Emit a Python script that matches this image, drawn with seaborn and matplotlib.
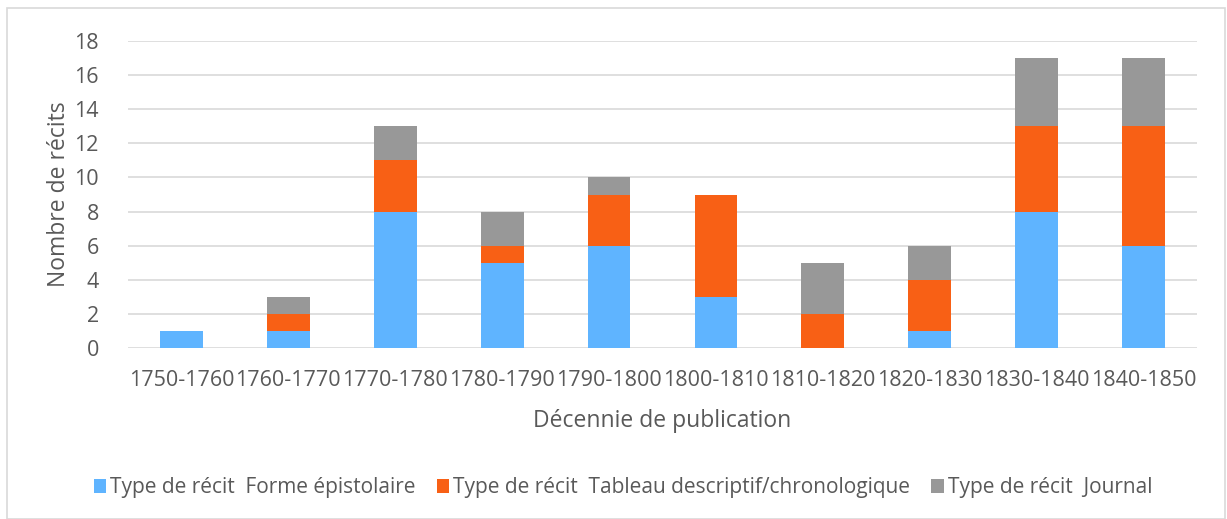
import seaborn as sns
import matplotlib.pyplot as plt
import numpy as np
from matplotlib.patches import Rectangle

# data
decades = ['1750-1760', '1760-1770', '1770-1780', '1780-1790', '1790-1800',
           '1800-1810', '1810-1820', '1820-1830', '1830-1840', '1840-1850']
epistolaire = [1, 1, 8, 5, 6, 3, 0, 1, 8, 6]
tableau = [0, 1, 3, 1, 3, 6, 2, 3, 5, 7]
journal = [0, 1, 2, 2, 1, 0, 3, 2, 4, 4]

labels = ['Type de récit  Forme épistolaire',
          'Type de récit  Tableau descriptif/chronologique',
          'Type de récit  Journal']
colors = ['#5FB4FF', '#F86015', '#989898']
txt = '#595959'

sns.set_style('white')
plt.rcParams['font.family'] = ['Open Sans', 'DejaVu Sans']

fig = plt.figure(figsize=(12.27, 5.19), dpi=100)
ax = fig.add_axes([128 / 1227, 1 - 348 / 519, 1069 / 1227, 307 / 519])

# stacked bars
bottom = np.zeros(len(decades))
for vals, lab, col in zip([epistolaire, tableau, journal], labels, colors):
    sns.barplot(x=decades, y=vals, bottom=bottom, color=col, width=0.4,
                saturation=1, linewidth=0, label=lab, ax=ax, zorder=3)
    bottom = bottom + np.array(vals)

ax.set_ylim(0, 18)
ax.set_xlim(-0.5, 9.5)
ax.set_yticks(range(0, 19, 2))
ax.yaxis.grid(True, color='#D9D9D9', linewidth=1.2, zorder=0)
ax.set_axisbelow(True)
for s in ax.spines.values():
    s.set_visible(False)
ax.tick_params(axis='both', length=0, labelsize=15.5, colors=txt)
ax.tick_params(axis='x', pad=16)
ax.tick_params(axis='y', pad=21)
ax.set_xlabel('Décennie de publication', fontsize=16.5, color=txt, labelpad=13)
ax.set_ylabel('Nombre de récits', fontsize=16.5, color=txt, labelpad=2)

ax.legend(loc='center', bbox_to_anchor=(0.463, -0.455), ncol=3, frameon=False,
          fontsize=15, handlelength=0.6, handleheight=0.7, handletextpad=0.2,
          columnspacing=1.0, labelcolor=txt)

# chart border
fig.patches.append(Rectangle((7 / 1227, 0), 1218 / 1227, 1 - 8 / 519,
                             transform=fig.transFigure, fill=False,
                             edgecolor='#D9D9D9', linewidth=1.2))

fig.savefig('out.png', dpi=100)
